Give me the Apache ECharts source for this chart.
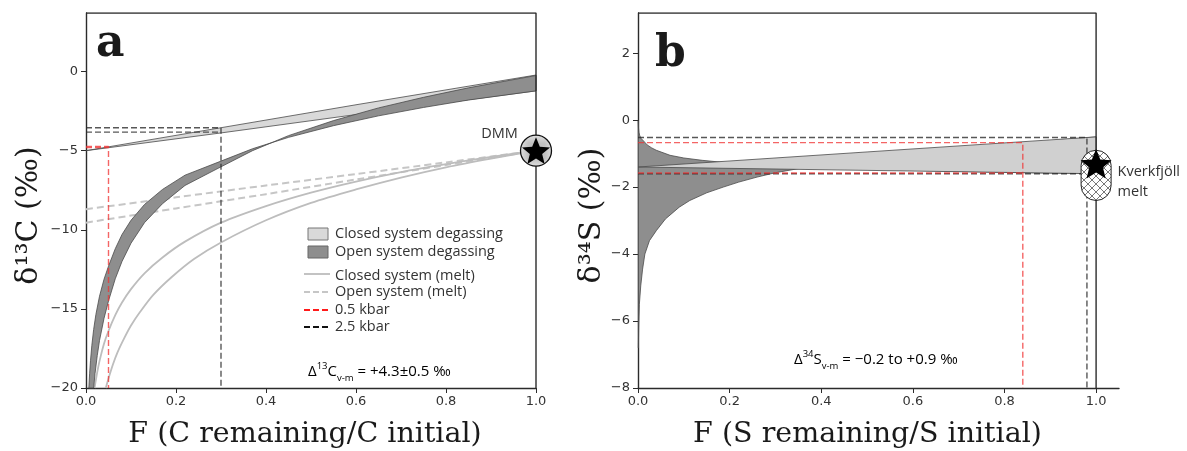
<!DOCTYPE html>
<html>
<head>
<meta charset="utf-8">
<script src="https://cdn.jsdelivr.net/npm/echarts@6/dist/echarts.min.js"></script>
<style>
  html, body { margin: 0; padding: 0; background: #fff; }
  #chart { width: 1187px; height: 451px; }
</style>
</head>
<body>
<div id="chart"></div>
<script>
// --- 1. Data: panel a (carbon) ---
const cTicksX = [0, 0.2, 0.4, 0.6, 0.8, 1.0];
const cTicksY = [-20, -15, -10, -5, 0];
const cYMin = -20, cYMax = 3.7;

// closed system degassing (vapour band)
const cClosedUpper = [[0, -5.0], [0.3, -3.55], [0.6, -2.1], [1.0, -0.22]];
const cClosedLower = [[0, -5.0], [0.3, -3.88], [0.6, -2.72], [1.0, -1.22]];

// open system degassing (vapour band), the two edges cross near F~0.4
const cOpenEdge1 = [
  [0.0063, -20], [0.008, -19.1], [0.01, -18.27], [0.013, -17.3], [0.017, -16.3],
  [0.022, -15.35], [0.03, -14.2], [0.04, -13.13], [0.05, -12.3], [0.065, -11.2],
  [0.08, -10.3], [0.1, -9.4], [0.13, -8.4], [0.17, -7.45], [0.22, -6.55],
  [0.3, -5.66], [0.37, -4.88], [0.45, -4.16], [0.55, -3.42], [0.65, -2.8],
  [0.75, -2.27], [0.85, -1.8], [1.0, -1.22]
];
const cOpenEdge2 = [
  [0.017, -20], [0.02, -19.1], [0.025, -17.95], [0.03, -17.0], [0.04, -15.6],
  [0.05, -14.5], [0.065, -13.1], [0.08, -12.0], [0.1, -10.85], [0.13, -9.55],
  [0.17, -8.35], [0.22, -7.2], [0.3, -6.02], [0.37, -5.0], [0.45, -4.05],
  [0.55, -3.1], [0.65, -2.3], [0.75, -1.63], [0.85, -1.03], [1.0, -0.25]
];

// melt curves
const cMeltSolid1 = [
  [0.019, -20], [0.025, -19.0], [0.03, -18.3], [0.04, -17.2], [0.05, -16.4],
  [0.065, -15.4], [0.08, -14.6], [0.1, -13.75], [0.13, -12.75], [0.17, -11.75],
  [0.22, -10.75], [0.3, -9.55], [0.4, -8.5], [0.5, -7.65], [0.6, -6.95],
  [0.7, -6.35], [0.8, -5.85], [0.9, -5.4], [1.0, -5.0]
];
const cMeltSolid2 = [
  [0.044, -20], [0.05, -19.4], [0.06, -18.5], [0.07, -17.75], [0.085, -16.85],
  [0.1, -16.05], [0.12, -15.2], [0.15, -14.1], [0.19, -13.0], [0.24, -11.85],
  [0.3, -10.8], [0.4, -9.4], [0.5, -8.3], [0.6, -7.45], [0.7, -6.7],
  [0.8, -6.05], [0.9, -5.5], [1.0, -5.0]
];
const cMeltDash1 = [[0, -8.7], [0.2, -7.95], [0.4, -7.2], [0.6, -6.48], [0.8, -5.74], [1.0, -5.0]];
const cMeltDash2 = [[0, -9.55], [0.2, -8.65], [0.4, -7.75], [0.6, -6.82], [0.8, -5.91], [1.0, -5.0]];

// pressure guides
const cRedF = 0.05, cRedLevels = [-4.74, -4.8];
const cBlackF = 0.3, cBlackLevels = [-3.55, -3.83];
const cDMM = [1.0, -5.0];

// --- 2. Data: panel b (sulfur) ---
const sTicksX = [0, 0.2, 0.4, 0.6, 0.8, 1.0];
const sTicksY = [-8, -6, -4, -2, 0, 2];
const sXMax = 1.05;
const sYMin = -8, sYMax = 3.2;

const sClosedUpper = [[0, -1.4], [0.5, -0.95], [1.0, -0.5]];
const sClosedLower = [[0, -1.4], [0.5, -1.5], [1.0, -1.6]];

const sOpenUpper = [
  [0.0005, -0.02], [0.001, -0.22], [0.002, -0.36], [0.004, -0.47], [0.007, -0.55],
  [0.012, -0.62], [0.02, -0.74], [0.03, -0.83], [0.04, -0.9], [0.07, -1.05],
  [0.1, -1.13], [0.14, -1.2], [0.2, -1.28], [0.3, -1.36], [0.45, -1.44],
  [0.6, -1.5], [0.8, -1.56], [1.0, -1.6]
];
const sOpenLower = [
  [0.0008, -6.8], [0.0015, -6.2], [0.003, -5.5], [0.006, -4.95], [0.01, -4.45],
  [0.015, -4.0], [0.025, -3.6], [0.04, -3.3], [0.06, -2.95], [0.09, -2.6],
  [0.113, -2.4], [0.15, -2.17], [0.186, -2.0], [0.22, -1.85], [0.26, -1.7],
  [0.3, -1.57], [0.37, -1.4], [0.45, -1.24], [0.55, -1.08], [0.7, -0.88],
  [0.85, -0.68], [1.0, -0.5]
];

const sRedF = 0.84, sRedLevels = [-0.67, -1.58];
const sBlackF = 0.98, sBlackLevels = [-0.52, -1.6];
const sMelt = [1.0, -1.3];
const sMeltRange = [-0.9, -2.4];

// --- 3. Styles ---
const axisColor = '#2b2b2b';
const serif = 'DejaVu Serif';
const sans = 'Open Sans';
const txtColor = '#333';
const starPath = 'path://M50,0L62.93,32.2L97.55,34.55L70.92,56.8L79.39,90.45L50,72L20.61,90.45L29.08,56.8L2.45,34.55L37.07,32.2Z';

function hatch(color, size) {
  const c = document.createElement('canvas');
  c.width = c.height = size;
  const g = c.getContext('2d');
  g.fillStyle = '#fff';
  g.fillRect(0, 0, size, size);
  g.strokeStyle = color;
  g.lineWidth = 0.8;
  g.beginPath();
  g.moveTo(0, 0); g.lineTo(size, size);
  g.moveTo(size, 0); g.lineTo(0, size);
  g.stroke();
  return { image: c, repeat: 'repeat' };
}

const fmtNum = (d) => (v) => (v < 0 ? '\u2212' : '') + Math.abs(v).toFixed(d);

function xAxisDef(grid, max, ticks, name, namePad) {
  return {
    gridIndex: grid, type: 'value', min: 0, max: max,
    axisLine: { show: true, onZero: false, lineStyle: { color: axisColor, width: 1.4 } },
    axisTick: { show: true, length: 5, customValues: ticks, lineStyle: { color: axisColor, width: 1 } },
    axisLabel: { customValues: ticks, formatter: fmtNum(1), margin: 7, color: txtColor, fontFamily: 'DejaVu Sans', fontSize: 13 },
    splitLine: { show: false },
    name: name, nameLocation: 'middle', nameGap: 32,
    nameTextStyle: { fontFamily: serif, fontSize: 28.5, color: '#1a1a1a', padding: namePad }
  };
}
function yAxisDef(grid, min, max, ticks, name, gap) {
  return {
    gridIndex: grid, type: 'value', min: min, max: max,
    axisLine: { show: true, onZero: false, lineStyle: { color: axisColor, width: 1.4 } },
    axisTick: { show: true, length: 5, customValues: ticks, lineStyle: { color: axisColor, width: 1 } },
    axisLabel: { customValues: ticks, formatter: fmtNum(0), margin: 8, color: txtColor, fontFamily: 'DejaVu Sans', fontSize: 13 },
    splitLine: { show: false },
    name: name, nameLocation: 'middle', nameGap: gap, nameRotate: 90,
    nameTextStyle: { fontFamily: serif, fontSize: 30, color: '#1a1a1a', padding: [0, 30, 0, 0] }
  };
}

function band(idx, upper, lower, fill, z) {
  return {
    type: 'custom', xAxisIndex: idx, yAxisIndex: idx, data: [[0, 0]], z: z, silent: true,
    renderItem: (params, api) => {
      const pts = upper.map(p => api.coord(p)).concat(lower.slice().reverse().map(p => api.coord(p)));
      return { type: 'polygon', shape: { points: pts }, style: { fill: fill, stroke: '#4a4a4a', lineWidth: 0.8 } };
    }
  };
}
function curve(idx, data, color, width, type, z, smooth) {
  return {
    type: 'line', xAxisIndex: idx, yAxisIndex: idx, data: data, symbol: 'none',
    smooth: smooth || false, silent: true, z: z,
    lineStyle: { color: color, width: width, type: type }
  };
}
function guides(idx, f, levels, yMin, color) {
  return levels.map((lv, i) => curve(idx,
    i === 0 ? [[0, lv], [f, lv], [f, yMin]] : [[0, lv], [f, lv]],
    color, 1.4, [6, 3], 6));
}

// --- 4. Chart ---
const chart = echarts.init(document.getElementById('chart'));

const series = [
  // panel a
  curve(0, cMeltDash1, '#c6c6c6', 2, [7, 4], 1, 0.3),
  curve(0, cMeltDash2, '#c6c6c6', 2, [7, 4], 1, 0.3),
  curve(0, cMeltSolid1, '#bdbdbd', 1.8, 'solid', 1, 0.3),
  curve(0, cMeltSolid2, '#bdbdbd', 1.8, 'solid', 1, 0.3),
  band(0, cClosedUpper, cClosedLower, '#d9d9d9', 3),
  band(0, cOpenEdge1, cOpenEdge2, '#8e8e8e', 4),
  ...guides(0, cBlackF, cBlackLevels, cYMin, 'rgba(45,45,45,0.8)'),
  ...guides(0, cRedF, cRedLevels, cYMin, 'rgba(240,50,50,0.75)'),
  curve(0, [[0, cYMax], [1, cYMax], [1, cYMin]], axisColor, 1.4, 'solid', 7),
  {
    type: 'scatter', xAxisIndex: 0, yAxisIndex: 0, data: [cDMM], symbol: 'circle', symbolSize: 31,
    clip: false, z: 8, silent: true,
    itemStyle: { color: hatch('#b0b0b0', 7), borderColor: '#111', borderWidth: 1.3, opacity: 1 },
    label: { show: true, formatter: 'DMM', position: 'left', offset: [3, -17], fontFamily: sans, fontSize: 14.5, color: txtColor }
  },
  {
    type: 'scatter', xAxisIndex: 0, yAxisIndex: 0, data: [cDMM], symbol: starPath, symbolSize: 28,
    symbolKeepAspect: true, clip: false, z: 9, silent: true, itemStyle: { color: '#000', opacity: 1 }
  },
  // panel b
  band(1, sOpenUpper, sOpenLower, '#8e8e8e', 3),
  band(1, sClosedUpper, sClosedLower, '#d0d0d0', 4),
  ...guides(1, sBlackF, sBlackLevels, sYMin, 'rgba(45,45,45,0.8)'),
  ...guides(1, sRedF, sRedLevels, sYMin, 'rgba(240,50,50,0.75)'),
  curve(1, [[0, sYMax], [1, sYMax], [1, sYMin]], axisColor, 1.4, 'solid', 7),
  {
    type: 'custom', xAxisIndex: 1, yAxisIndex: 1, data: [[sMelt[0], sMeltRange[0]]], z: 8, silent: true,
    renderItem: (params, api) => {
      const a = api.coord([sMelt[0], sMeltRange[0]]);
      const b = api.coord([sMelt[0], sMeltRange[1]]);
      const w = 30;
      return {
        type: 'rect',
        shape: { x: a[0] - w / 2, y: a[1], width: w, height: b[1] - a[1], r: w / 2 },
        style: { fill: hatch('#555', 8), stroke: '#222', lineWidth: 1 }
      };
    }
  },
  {
    type: 'scatter', xAxisIndex: 1, yAxisIndex: 1, data: [sMelt], symbol: starPath, symbolSize: 31,
    symbolKeepAspect: true, clip: false, z: 9, silent: true, itemStyle: { color: '#000', opacity: 1 },
    label: { show: true, formatter: 'Kverkfj\u00f6ll\nmelt', position: 'right', distance: 6, offset: [0, 18],
      fontFamily: sans, fontSize: 14.5, lineHeight: 20, color: txtColor }
  }
];

const legendFont = '14.5px "Open Sans"';
const rich = {
  n: { fontFamily: sans, fontSize: 15, lineHeight: 22, color: txtColor },
  sup: { fontFamily: sans, fontSize: 9.5, lineHeight: 12, verticalAlign: 'top', color: txtColor },
  sub: { fontFamily: sans, fontSize: 9.5, lineHeight: 12, verticalAlign: 'bottom', color: txtColor }
};
function legText(x, y, text) {
  return { type: 'text', x: x, y: y, silent: true,
    style: { text: text, font: legendFont, fill: txtColor, verticalAlign: 'middle', textVerticalAlign: 'middle' } };
}
function legLine(y, color, dash, width) {
  return { type: 'line', silent: true, shape: { x1: 304, y1: y, x2: 330, y2: y },
    style: { stroke: color, lineWidth: width, lineDash: dash } };
}

chart.setOption({
  animation: false,
  grid: [
    { left: 86, top: 13, width: 450, height: 375, outerBoundsMode: 'none', containLabel: false },
    { left: 638, top: 13, width: 481, height: 375, outerBoundsMode: 'none', containLabel: false }
  ],
  xAxis: [
    xAxisDef(0, 1, cTicksX, 'F (C remaining/C initial)', [0, 12, 0, 0]),
    xAxisDef(1, sXMax, sTicksX, 'F (S remaining/S initial)', [0, 22, 0, 0])
  ],
  yAxis: [
    yAxisDef(0, cYMin, cYMax, cTicksY, '\u03b4\u00b9\u00b3C (\u2030)', 42),
    yAxisDef(1, sYMin, sYMax, sTicksY, '\u03b4\u00b3\u2074S (\u2030)', 15)
  ],
  series: series,
  graphic: [
    { type: 'text', x: 96, y: 45, silent: true,
      style: { text: 'a', font: 'bold 44px "DejaVu Serif"', fill: '#1a1a1a', verticalAlign: 'middle', textVerticalAlign: 'middle' } },
    { type: 'text', x: 655, y: 55, silent: true,
      style: { text: 'b', font: 'bold 44px "DejaVu Serif"', fill: '#1a1a1a', verticalAlign: 'middle', textVerticalAlign: 'middle' } },
    // legend (panel a)
    { type: 'rect', silent: true, shape: { x: 308, y: 228, width: 20, height: 12 }, style: { fill: '#d9d9d9', stroke: '#777', lineWidth: 1 } },
    legText(335, 234, 'Closed system degassing'),
    { type: 'rect', silent: true, shape: { x: 308, y: 246, width: 20, height: 12 }, style: { fill: '#8e8e8e', stroke: '#666', lineWidth: 1 } },
    legText(335, 252, 'Open system degassing'),
    legLine(274, '#bdbdbd', null, 1.8),
    legText(335, 275.5, 'Closed system (melt)'),
    legLine(292, '#c6c6c6', [6, 3], 1.8),
    legText(335, 292, 'Open system (melt)'),
    legLine(310, '#ff1a1a', [6, 3], 2),
    legText(335, 309.5, '0.5 kbar'),
    legLine(327, '#111', [6, 3], 2),
    legText(335, 326.5, '2.5 kbar'),
    // annotations
    { type: 'text', x: 308, y: 372, silent: true,
      style: { text: '{n|\u0394}{sup|13}{n|C}{sub|v-m}{n| = +4.3\u00b10.5 \u2030}', rich: rich, verticalAlign: 'middle', textVerticalAlign: 'middle' } },
    { type: 'text', x: 794, y: 360, silent: true,
      style: { text: '{n|\u0394}{sup|34}{n|S}{sub|v-m}{n| = \u22120.2 to +0.9 \u2030}', rich: rich, verticalAlign: 'middle', textVerticalAlign: 'middle' } }
  ]
});
</script>
</body>
</html>
